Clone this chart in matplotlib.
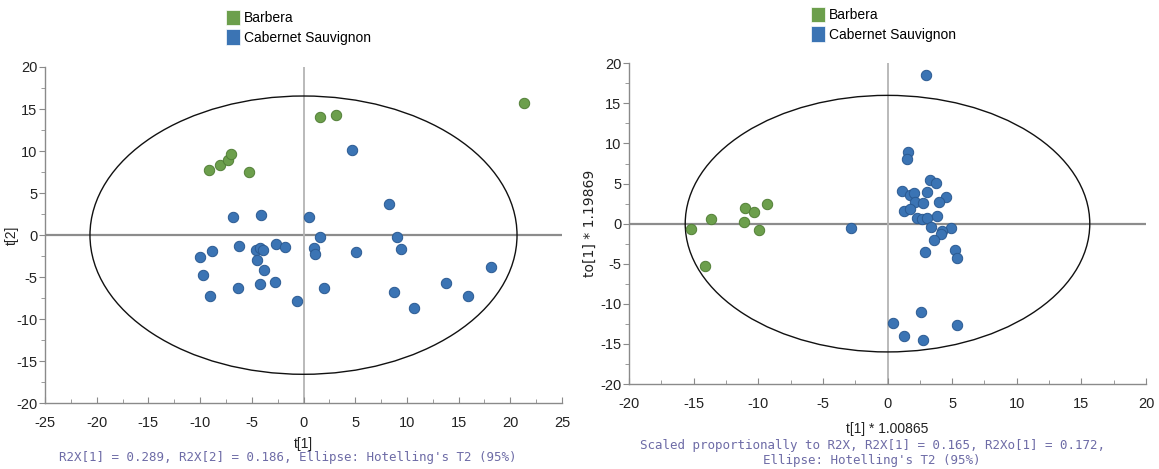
import numpy as np
import matplotlib
matplotlib.use('Agg')
import matplotlib.pyplot as plt
from matplotlib.patches import Ellipse, Patch

plt.rcParams['font.family'] = ['Liberation Sans', 'DejaVu Sans']
plt.rcParams['axes.unicode_minus'] = False

# PCA scores, t[1] vs t[2]
pca_barbera_t1 = [21.35, 1.64, 3.10, -9.16, -8.09, -7.27, -6.98, -5.27]
pca_barbera_t2 = [15.75, 14.09, 14.25, 7.78, 8.37, 8.89, 9.64, 7.50]
pca_cab_t1 = [4.70, 8.23, -6.85, -4.12, 0.58, 1.60, 9.02, -6.27, -4.64, -4.23,
              -3.90, -2.64, -1.79, -10.00, -8.82, 1.00, 1.12, 5.10, 9.41, -4.48,
              -3.83, -9.73, -6.37, -4.22, -2.72, -9.00, -0.67, 2.03, 8.73, 10.73,
              13.79, 15.93, 18.10]
pca_cab_t2 = [10.08, 3.69, 2.14, 2.44, 2.14, -0.18, -0.24, -1.25, -1.72, -1.47,
              -1.72, -1.08, -1.41, -2.60, -1.88, -1.51, -2.20, -2.02, -1.67, -2.98,
              -4.17, -4.77, -6.31, -5.84, -5.54, -7.27, -7.82, -6.33, -6.79, -8.65,
              -5.71, -7.26, -3.73]

# OPLS-DA scores, t[1] vs to[1] (scaled)
opls_barbera_t1 = [-15.24, -13.64, -11.01, -10.33, -9.36, -11.10, -9.93, -14.15]
opls_barbera_to1 = [-0.63, 0.54, 1.96, 1.46, 2.50, 0.21, -0.75, -5.29]
opls_cab_t1 = [-2.85, 3.00, 1.57, 1.50, 3.28, 3.74, 1.11, 1.71, 2.02, 3.07,
               4.50, 2.14, 2.76, 3.98, 1.26, 1.73, 2.27, 2.66, 3.07, 3.85,
               4.88, 3.39, 4.24, 4.11, 3.62, 2.87, 5.24, 5.40, 2.57, 0.46,
               5.34, 1.26, 2.71]
opls_cab_to1 = [-0.50, 18.54, 8.94, 8.03, 5.50, 5.05, 4.05, 3.60, 3.85, 3.93,
                3.27, 2.73, 2.56, 2.65, 1.53, 1.82, 0.70, 0.53, 0.66, 0.99,
                -0.58, -0.46, -0.96, -1.33, -2.07, -3.48, -3.23, -4.31, -11.08, -12.42,
                -12.58, -14.04, -14.50]

# Hotelling's T2 (95%) ellipse semi-axes
pca_ellipse = (20.65, 16.55)
opls_ellipse = (15.65, 16.0)

groups = ['Barbera', 'Cabernet Sauvignon']
face = {'Barbera': '#6c9f4c', 'Cabernet Sauvignon': '#3b74b4'}
edge = {'Barbera': '#527f37', 'Cabernet Sauvignon': '#2b5a92'}
footer_color = '#6d6ba6'
tick_color = '#222222'

W, H = 1159, 469
fig = plt.figure(figsize=(W / 100, H / 100), dpi=100)
ax1 = fig.add_axes([45 / W, (H - 403.3) / H, 517 / W, 336.3 / H])
ax2 = fig.add_axes([629 / W, (H - 384) / H, 517 / W, 320.7 / H])


def style_axes(ax, xlim, ylim, xticks, yticks):
    ax.set_xlim(*xlim)
    ax.set_ylim(*ylim)
    ax.set_xticks(xticks)
    ax.set_yticks(yticks)
    ax.set_xticks(np.arange(xlim[0] + 2.5, xlim[1], 5), minor=True)
    ax.set_yticks(np.arange(ylim[0] + 2.5, ylim[1], 5), minor=True)
    for s in ['top', 'right']:
        ax.spines[s].set_visible(False)
    for s in ['left', 'bottom']:
        ax.spines[s].set_color('#8a8a8a')
        ax.spines[s].set_linewidth(1.0)
    ax.tick_params(axis='x', which='both', direction='in', colors='#8a8a8a',
                   labelcolor=tick_color, labelsize=10.5, pad=9)
    ax.tick_params(axis='y', which='both', direction='out', colors='#8a8a8a',
                   labelcolor=tick_color, labelsize=10.5, pad=1.5)
    ax.tick_params(which='major', length=4)
    ax.tick_params(which='minor', length=3)
    ax.axhline(0, color='#8c8c8c', lw=1.6, zorder=1)
    ax.axvline(0, color='#b4b4b4', lw=1.3, zorder=1)


def draw_scores(ax, bx, by, cx, cy, semi):
    ax.add_patch(Ellipse((0, 0), 2 * semi[0], 2 * semi[1], fill=False,
                         edgecolor='#111111', lw=1.0, zorder=2))
    ax.scatter(cx, cy, s=56, color=face['Cabernet Sauvignon'],
               edgecolor=edge['Cabernet Sauvignon'], linewidth=0.7, zorder=3)
    ax.scatter(bx, by, s=56, color=face['Barbera'],
               edgecolor=edge['Barbera'], linewidth=0.7, zorder=3)


# left: PCA score plot
style_axes(ax1, (-25, 25), (-20, 20), np.arange(-25, 26, 5), np.arange(-20, 21, 5))
draw_scores(ax1, pca_barbera_t1, pca_barbera_t2, pca_cab_t1, pca_cab_t2, pca_ellipse)
ax1.set_xlabel('t[1]', fontsize=10, color=tick_color)
ax1.set_ylabel('t[2]', fontsize=10, color=tick_color)
ax1.xaxis.set_label_coords(0.5, -0.1)
ax1.yaxis.set_label_coords(-0.05, 0.5)

# right: OPLS-DA score plot
style_axes(ax2, (-20, 20), (-20, 20), np.arange(-20, 21, 5), np.arange(-20, 21, 5))
draw_scores(ax2, opls_barbera_t1, opls_barbera_to1, opls_cab_t1, opls_cab_to1, opls_ellipse)
ax2.set_xlabel('t[1] * 1.00865', fontsize=10, color=tick_color)
ax2.set_ylabel('to[1] * 1.19869', fontsize=10, color=tick_color,
               family=['DejaVu Sans'])
ax2.xaxis.set_label_coords(0.5, -0.118)
ax2.yaxis.set_label_coords(-0.062, 0.5)

# legends above each plot
handles = [Patch(facecolor=face[g], edgecolor='#ffffff', linewidth=0.5) for g in groups]
for x0, y0 in [(226, 10), (811, 7)]:
    fig.legend(handles, groups, loc='upper left', bbox_to_anchor=(x0 / W, 1 - y0 / H),
               frameon=False, fontsize=10, handlelength=1.0, handleheight=1.3,
               handletextpad=0.3, labelspacing=0.3, borderpad=0, borderaxespad=0)

# model summaries
mono = ['DejaVu Sans Mono']
fig.text(288 / W, 1 - 457 / H,
         "R2X[1] = 0.289, R2X[2] = 0.186, Ellipse: Hotelling's T2 (95%)",
         ha='center', va='center', fontsize=9, family=mono, color=footer_color)
fig.text(872 / W, 1 - 453 / H,
         "Scaled proportionally to R2X, R2X[1] = 0.165, R2Xo[1] = 0.172,\n"
         "Ellipse: Hotelling's T2 (95%)",
         ha='center', va='center', ma='center', fontsize=9, family=mono,
         color=footer_color, linespacing=1.25)

fig.savefig('out.png', dpi=100)
